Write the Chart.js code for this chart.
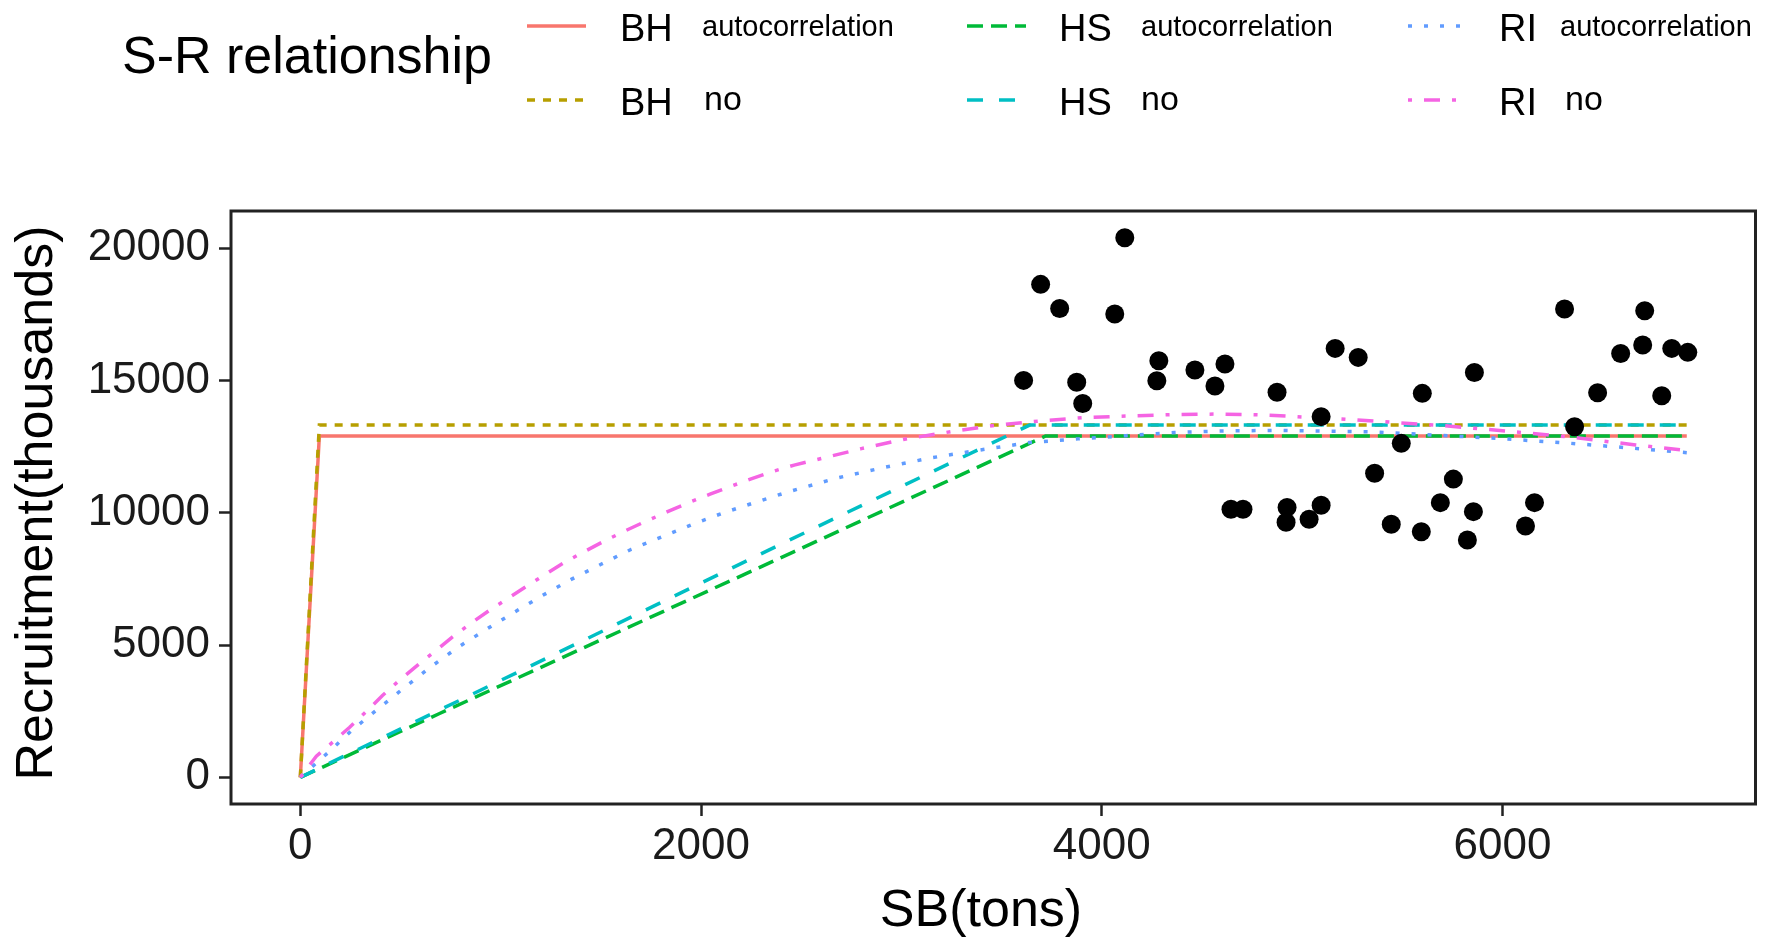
<!DOCTYPE html>
<html><head><meta charset="utf-8">
<script src="https://cdn.jsdelivr.net/npm/chart.js@4.4.1/dist/chart.umd.min.js"></script>
<style>
html,body{margin:0;padding:0;background:#fff;}
#wrap{position:relative;width:1765px;height:941px;overflow:hidden;background:#fff;font-family:"Liberation Sans",Arial,sans-serif;color:#000;}
#c{position:absolute;left:0;top:0;}
.t{position:absolute;white-space:nowrap;line-height:1;transform:translateY(-50%);}
.k{position:absolute;overflow:visible;}
</style></head><body>
<div id="wrap">
<canvas id="c" width="1765" height="941"></canvas>
<div id="legend"></div>
</div>
<script>
// ---------------- DATA ----------------
const xTickValues = [0, 2000, 4000, 6000];
const yTickValues = [0, 5000, 10000, 15000, 20000];

// observed stock-recruitment pairs
const spawnerBiomass = [3610, 3695, 3790, 3875, 3905, 4065, 4115, 4275, 4285, 4465, 4565, 4615, 4645, 4705, 4875, 4920, 4925, 5035, 5095, 5095, 5165, 5280, 5362, 5445, 5495, 5595, 5600, 5690, 5755, 5825, 5855, 5860, 6115, 6160, 6310, 6360, 6475, 6590, 6700, 6710, 6795, 6845, 6925];
const recruitment   = [15000, 18630, 17720, 14930, 14130, 17510, 20390, 14990, 15740, 15390, 14790, 15620, 10130, 10130, 14550, 9640, 10200, 9750, 10280, 13630, 16210, 15870, 11490, 9560, 12620, 9280, 14510, 10380, 11270, 8970, 10040, 15300, 9500, 10380, 17700, 13250, 14530, 16020, 16340, 17630, 14420, 16210, 16060];

// fitted curves
const bhAutoX = [0, 95, 6920];
const bhAutoY = [0, 12900, 12900];
const bhNoX = [0, 95, 6920];
const bhNoY = [0, 13310, 13310];
const hsAutoX = [0, 695, 1390, 2465, 3720, 6920];
const hsAutoY = [0, 2410, 4810, 8530, 12900, 12900];
const hsNoX = [0, 645, 1390, 2415, 3640, 6920];
const hsNoY = [0, 2360, 5090, 8870, 13310, 13310];
const riAutoX = [0, 138, 259, 395, 524, 656, 792, 928, 1066, 1206, 1352, 1501, 1650, 1806, 1960, 2118, 2275, 2432, 2673, 2913, 3153, 3393, 3638, 3882, 4122, 4364, 4603, 4851, 5340, 5646, 5969, 6292, 6615, 6920];
const riAutoY = [0, 930, 1790, 2630, 3420, 4200, 4940, 5590, 6230, 6860, 7480, 8050, 8610, 9090, 9570, 10010, 10400, 10780, 11300, 11710, 12080, 12370, 12650, 12790, 12910, 13030, 13090, 13110, 13060, 12940, 12810, 12650, 12460, 12270];
const riNoX = [0, 80, 165, 245, 330, 410, 495, 595, 670, 760, 850, 940, 1040, 1125, 1225, 1320, 1420, 1520, 1620, 1720, 1830, 1935, 2045, 2150, 2250, 2350, 2465, 2580, 2800, 3010, 3245, 3475, 3710, 3905, 4140, 4370, 4590, 4820, 5215, 5670, 6000, 6350, 6665, 6920];
const riNoY = [0, 800, 1350, 1880, 2490, 3090, 3670, 4300, 4750, 5310, 5810, 6290, 6780, 7200, 7680, 8130, 8540, 8940, 9310, 9660, 10030, 10370, 10700, 11000, 11280, 11540, 11800, 12010, 12420, 12770, 13060, 13310, 13480, 13590, 13660, 13710, 13730, 13690, 13530, 13310, 13100, 12850, 12560, 12350];

const legendTitle = 'S-R relationship';
const modelNames = ['BH', 'HS', 'RI'];
const variantNames = ['autocorrelation', 'no'];
const xTitle = 'SB(tons)';
const yTitle = 'Recruitment(thousands)';

// ---------------- STYLE ----------------
const FONT = '"Liberation Sans", Arial, sans-serif';
const series = [
  {model:0, variant:0, xs:bhAutoX, ys:bhAutoY, color:'#F8766D', dash:[]},
  {model:0, variant:1, xs:bhNoX,   ys:bhNoY,   color:'#B79F00', dash:[8,8]},
  {model:1, variant:0, xs:hsAutoX, ys:hsAutoY, color:'#00BA38', dash:[16,8]},
  {model:1, variant:1, xs:hsNoX,   ys:hsNoY,   color:'#00BFC4', dash:[16,16]},
  {model:2, variant:0, xs:riAutoX, ys:riAutoY, color:'#619CFF', dash:[4,12]},
  {model:2, variant:1, xs:riNoX,   ys:riNoY,   color:'#F564E3', dash:[4,12,16,12]}
];

// ---------------- LEGEND (HTML) ----------------
const legend = document.getElementById('legend');
function addText(txt, left, cy, size) {
  const d = document.createElement('div');
  d.className = 't';
  d.textContent = txt;
  d.style.left = left + 'px';
  d.style.top = cy + 'px';
  d.style.fontSize = size + 'px';
  legend.appendChild(d);
}
addText(legendTitle, 122, 55, 52);
const colKeyLeft = [527, 967, 1408];
const colLabelLeft = [620, 1059, 1499];
const colVarLeft = [[702, 704], [1141, 1141], [1560, 1565]];
const rowY = [26, 100];
series.forEach(s => {
  const cy = rowY[s.variant];
  const svgNS = 'http://www.w3.org/2000/svg';
  const svg = document.createElementNS(svgNS, 'svg');
  svg.setAttribute('class', 'k');
  svg.setAttribute('width', '60');
  svg.setAttribute('height', '10');
  svg.style.left = colKeyLeft[s.model] + 'px';
  svg.style.top = (cy - 5) + 'px';
  const ln = document.createElementNS(svgNS, 'line');
  ln.setAttribute('x1', '0'); ln.setAttribute('y1', '5');
  ln.setAttribute('x2', '59'); ln.setAttribute('y2', '5');
  ln.setAttribute('stroke', s.color);
  ln.setAttribute('stroke-width', '3.5');
  if (s.dash.length) ln.setAttribute('stroke-dasharray', s.dash.join(' '));
  svg.appendChild(ln);
  legend.appendChild(svg);
  addText(modelNames[s.model], colLabelLeft[s.model], cy + 1.5, 38);
  const vName = variantNames[s.variant];
  if (s.variant === 0) addText(vName, colVarLeft[s.model][0], cy, 29);
  else addText(vName, colVarLeft[s.model][1], cy - 2, 34);
});

// ---------------- CHART ----------------
const toPts = (xs, ys) => xs.map((x, i) => ({x: x, y: ys[i]}));
const datasets = [{
  label: 'observed',
  data: toPts(spawnerBiomass, recruitment),
  showLine: false,
  pointRadius: 9.5,
  pointBackgroundColor: '#000',
  pointBorderWidth: 0,
  order: 0
}];
series.forEach((s, i) => {
  datasets.push({
    label: modelNames[s.model] + ' ' + variantNames[s.variant],
    data: toPts(s.xs, s.ys),
    showLine: true,
    borderColor: s.color,
    borderWidth: 3.5,
    borderDash: s.dash,
    borderCapStyle: 'butt',
    pointRadius: 0,
    tension: 0,
    fill: false,
    order: 6 - i + 1
  });
});

const boxAndTitles = {
  id: 'boxAndTitles',
  afterDatasetsDraw(chart) {
    const {ctx, chartArea: a} = chart;
    ctx.save();
    ctx.strokeStyle = '#222';
    ctx.lineWidth = 3;
    ctx.strokeRect(a.left, a.top, a.right - a.left, a.bottom - a.top);
    ctx.restore();
  },
  afterDraw(chart) {
    const ctx = chart.ctx;
    ctx.save();
    ctx.fillStyle = '#000';
    ctx.font = '52px ' + FONT;
    ctx.textAlign = 'center';
    ctx.textBaseline = 'middle';
    ctx.fillText(xTitle, 981, 912);
    ctx.translate(38, 503);
    ctx.rotate(-Math.PI / 2);
    ctx.fillText(yTitle, 0, 0);
    ctx.restore();
  }
};

const tickFont = {family: FONT, size: 44};
new Chart(document.getElementById('c'), {
  type: 'scatter',
  data: {datasets: datasets},
  options: {
    responsive: false,
    animation: false,
    devicePixelRatio: 1,
    layout: {padding: {top: 211, right: 3, left: 0, bottom: 0}},
    plugins: {legend: {display: false}, tooltip: {enabled: false}},
    scales: {
      x: {
        type: 'linear', min: -346, max: 7263,
        afterFit(s) { s.height = 137; },
        afterBuildTicks(s) { s.ticks = xTickValues.map(v => ({value: v})); },
        ticks: {font: tickFont, color: '#1a1a1a', padding: 4, maxRotation: 0, autoSkip: false, callback: v => String(v)},
        grid: {display: true, drawOnChartArea: false, drawTicks: true, tickLength: 12, tickWidth: 2.5, tickColor: '#222'},
        border: {display: false}
      },
      y: {
        type: 'linear', min: -1009, max: 21402,
        afterFit(s) { s.width = 231; },
        afterBuildTicks(s) { s.ticks = yTickValues.map(v => ({value: v})); },
        ticks: {font: tickFont, color: '#1a1a1a', padding: 9, autoSkip: false, callback: v => String(v)},
        grid: {display: true, drawOnChartArea: false, drawTicks: true, tickLength: 12, tickWidth: 2.5, tickColor: '#222'},
        border: {display: false}
      }
    }
  },
  plugins: [boxAndTitles]
});
</script>
</body></html>
